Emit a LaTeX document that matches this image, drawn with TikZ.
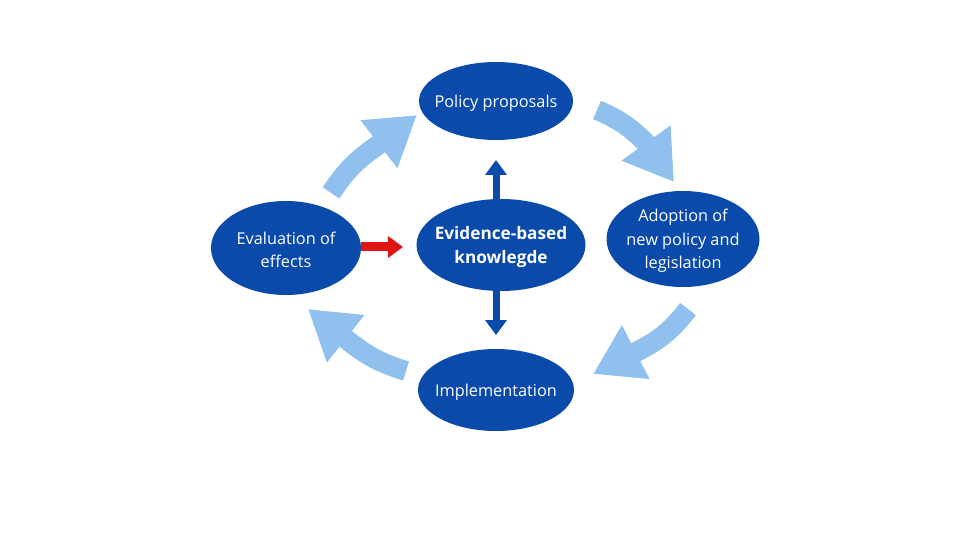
\documentclass[tikz,border=0pt]{standalone}
\usepackage{fontspec}
\setmainfont{Open Sans}
\usetikzlibrary{arrows.meta,shapes.geometric}

\definecolor{darkblue}{HTML}{0A4AAA}
\definecolor{lightblue}{HTML}{90C0EE}
\definecolor{redarrow}{HTML}{E01414}

\begin{document}
\begin{tikzpicture}[x=1pt, y=-1pt,
  stage/.style={ellipse, fill=darkblue, inner sep=0pt},
  stagetext/.style={text=white, align=center, yshift=-2pt,
    font=\fontsize{16.3}{23.5}\selectfont},
  cycle/.style={lightblue, line width=20pt, -{Triangle[length=48pt,width=57pt]}},
  link/.style={darkblue, line width=7pt, -{Triangle[length=15pt,width=21pt]}}]
\useasboundingbox (0,0) rectangle (955,537);

% stages
\node[stage, minimum width=154pt, minimum height=78pt,
  label={[stagetext]center:Policy proposals}] (policy) at (496,101) {};
\node[stage, minimum width=169pt, minimum height=92pt,
  label={[stagetext, font=\fontsize{17.2}{24}\selectfont\bfseries]center:Evidence-based\\knowlegde}] (evidence) at (501,245) {};
\node[stage, minimum width=153pt, minimum height=96pt,
  label={[stagetext]center:Adoption of\\new policy and\\legislation}] (adoption) at (683,239) {};
\node[stage, minimum width=150pt, minimum height=94pt,
  label={[stagetext]center:Evaluation of\\effects}] (evaluation) at (286,248) {};
\node[stage, minimum width=156pt, minimum height=82pt,
  label={[stagetext]center:Implementation}] (implementation) at (496,390) {};

% cycle arrow ends: tail, head base, tip
\coordinate (a1) at (331,193); \coordinate (m1) at (378,145); \coordinate (b1) at (417,115);
\coordinate (a2) at (597,110); \coordinate (m2) at (646,143); \coordinate (b2) at (674,182);
\coordinate (a3) at (688,309); \coordinate (m3) at (636,352); \coordinate (b3) at (593,374);
\coordinate (a4) at (406,371); \coordinate (m4) at (346,339); \coordinate (b4) at (308,309);

% cycle
\draw[cycle] (a1) to[bend left=11] (m1) -- (b1);
\draw[cycle] (a2) to[bend left=11] (m2) -- (b2);
\draw[cycle] (a3) to[bend left=13] (m3) -- (b3);
\draw[cycle] (a4) to[bend left=11] (m4) -- (b4);

% knowledge links
\coordinate (up) at (496,160);
\coordinate (down) at (496,335);
\coordinate (right) at (403,247);
\draw[link] (evidence.north -| up) -- (up);
\draw[link] (evidence.south -| down) -- (down);
\draw[link, redarrow, line width=9pt] (evaluation.east |- right) -- (right);

\end{tikzpicture}
\end{document}
